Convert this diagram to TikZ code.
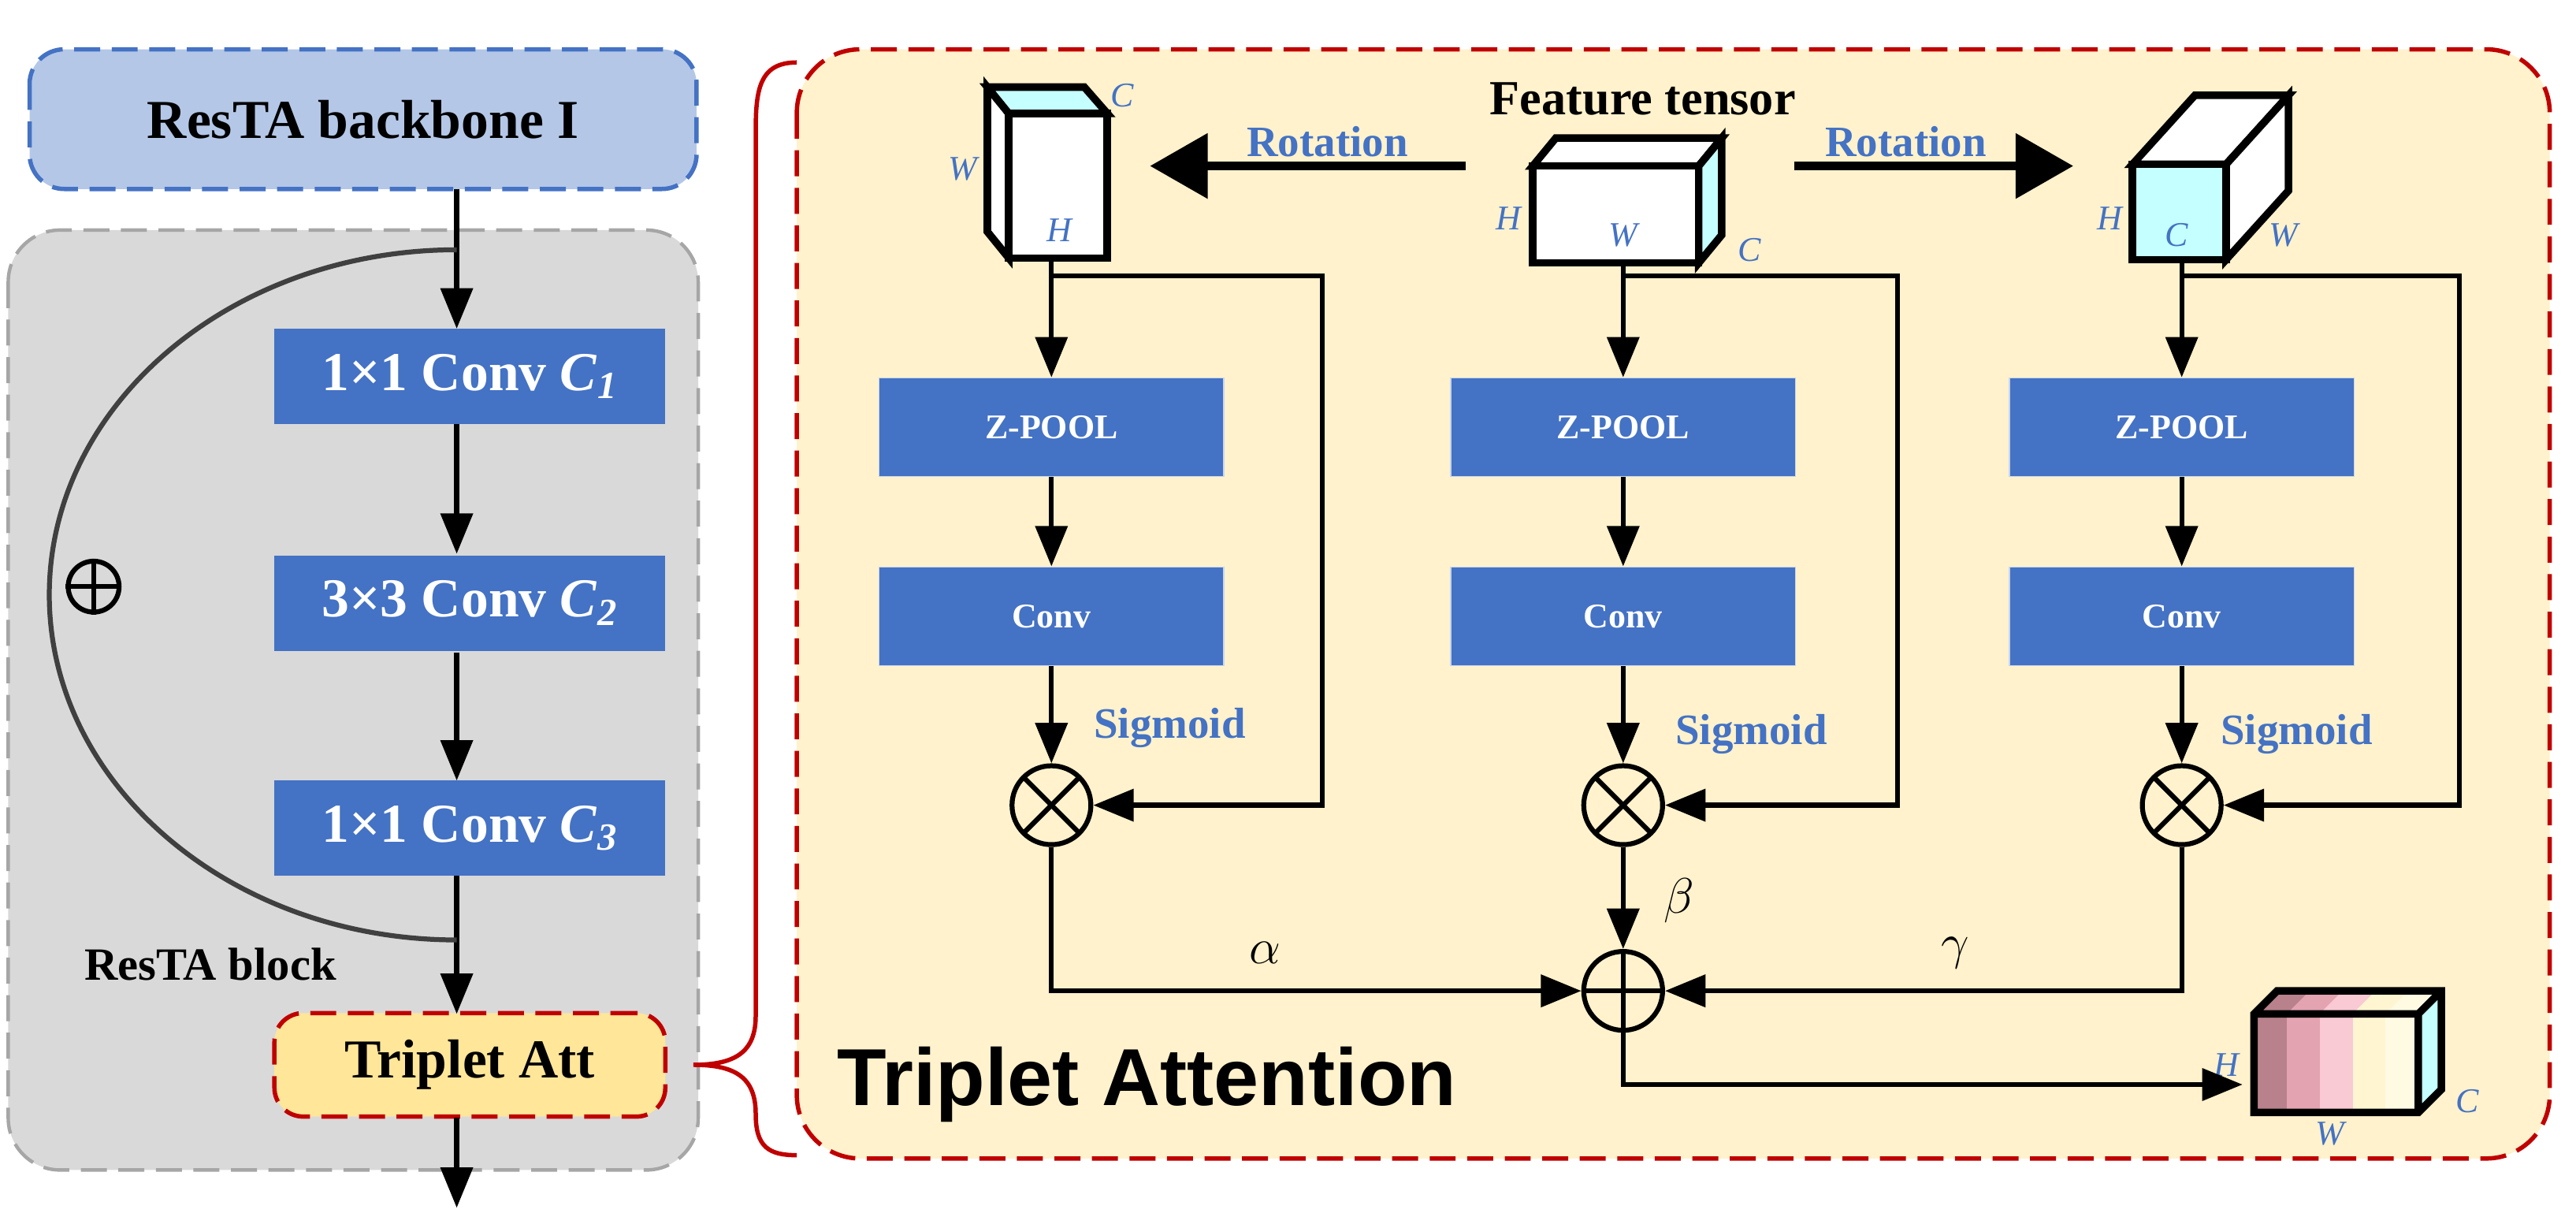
\documentclass[tikz,border=0pt]{standalone}
\usepackage{fontspec}
\setmainfont{Liberation Serif}
\newfontfamily\sansbf{Liberation Sans}
\usepackage{tikz}
\usetikzlibrary{arrows.meta}

\definecolor{convblue}{HTML}{4472C4}
\definecolor{paneltan}{HTML}{FFF2CC}
\definecolor{darkred}{HTML}{C00000}
\definecolor{capblue}{HTML}{B4C7E7}
\definecolor{blockgrey}{HTML}{D9D9D9}
\definecolor{attyellow}{HTML}{FFE699}
\definecolor{icecyan}{HTML}{C5FFFF}

\tikzset{
    flow/.style={line width=1.7pt,-{Triangle[length=14pt,width=11pt]}},
    link/.style={line width=1.7pt},
    longdash/.style={dash pattern=on 9pt off 4pt},
    convbox/.style={fill=convblue,text=white,font=\bfseries\fontsize{19}{22}\selectfont,minimum width=4.76cm,minimum height=1.16cm,inner sep=0pt},
    poolbox/.style={fill=convblue,draw=white!70!convblue,text=white,font=\bfseries\fontsize{12}{14}\selectfont,minimum width=4.2cm,minimum height=1.2cm,inner sep=0pt},
    dimlbl/.style={text=convblue,font=\itshape\fontsize{12}{14}\selectfont,inner sep=1pt},
    bluelbl/.style={text=convblue,font=\bfseries\fontsize{15}{18}\selectfont},
    greek/.style={font=\fontsize{17}{20}\selectfont},
    opnode/.style={circle,draw,line width=1.7pt,minimum size=0.96cm,inner sep=0pt},
    rotarrow/.style={line width=3pt,-{Triangle[length=20pt,width=22pt]}},
    cube/.style={line width=2.6pt,line join=miter},
}

\begin{document}
\begin{tikzpicture}[x=0.02cm,y=-0.02cm]
    \useasboundingbox (0,0) rectangle (1568,747.3);

    % left part
    \draw[convblue,longdash,line width=1.5pt,fill=capblue,rounded corners=12pt] (18,30) rectangle (424,115);
    \node[font=\bfseries\fontsize{19}{22}\selectfont] (backbone) at (221,73) {ResTA backbone I};
    \draw[gray!70,longdash,line width=1.2pt,fill=blockgrey,rounded corners=18pt] (5,140) rectangle (425,712);

    \node[convbox] (convA) at (286,229) {1×1 Conv \textit{C}\textsubscript{\textit{1}}};
    \node[convbox] (convB) at (286,367) {3×3 Conv \textit{C}\textsubscript{\textit{2}}};
    \node[convbox] (convC) at (286,504) {1×1 Conv \textit{C}\textsubscript{\textit{3}}};
    \node[fill=attyellow,draw=darkred,longdash,line width=1.5pt,rounded corners=10pt,minimum width=4.76cm,minimum height=1.26cm,font=\bfseries\fontsize{19}{22}\selectfont] (att) at (286,648) {Triplet Att};
    \node[font=\bfseries\fontsize{16}{19}\selectfont] (blocklbl) at (128,587) {ResTA block};

    \coordinate (skipS) at (278,152);
    \coordinate (skipE) at (278,572);
    \coordinate (outB) at (278,735);
    \draw[flow] (278,115) -- (278,200);
    \draw[flow] (278,258) -- (278,337);
    \draw[flow] (278,397) -- (278,475);
    \draw[flow] (278,533) -- (278,617);
    \draw[flow] (278,680) -- (outB);
    \draw[line width=1.7pt,black!75] (skipS) .. controls (141,152) and (30,246) .. (30,362)
        .. controls (30,478) and (141,572) .. (skipE);
    \node[circle,draw,line width=1.7pt,minimum size=0.62cm,inner sep=0pt] (plusL) at (57,357) {};
    \draw[link] (plusL.north) -- (plusL.south) (plusL.west) -- (plusL.east);

    % brace
    \draw[darkred,line width=1.5pt] (485,38) .. controls (462,38) and (460,55) .. (460,80) -- (460,618)
        .. controls (460,640) and (448,648) .. (422,648) .. controls (448,648) and (460,656) .. (460,678)
        .. controls (460,698) and (468,703) .. (485,703);

    % triplet attention panel
    \draw[darkred,longdash,line width=1.5pt,fill=paneltan,rounded corners=22pt] (485,30) rectangle (1552,705);
    \node[font=\sansbf\bfseries\fontsize{28}{32}\selectfont] (title) at (698,660) {Triplet Attention};
    \node[font=\bfseries\fontsize{17}{20}\selectfont] (feat) at (1000,60) {Feature tensor};

    % cubes
    \draw[cube,fill=white] (614,69) -- (601,53) -- (601,141) -- (614,157) -- cycle; % left side
    \draw[cube,fill=icecyan] (614,69) -- (601,53) -- (660,53) -- (674,69) -- cycle; % top
    \draw[cube,fill=white] (614,69) rectangle (674,157); % front
    \draw[cube,fill=white] (933,101) -- (947,84) -- (1048,84) -- (1034,101) -- cycle;
    \draw[cube,fill=icecyan] (1034,101) -- (1048,84) -- (1048,143) -- (1034,160) -- cycle;
    \draw[cube,fill=white] (933,101) rectangle (1034,160);
    \draw[cube,fill=white] (1298,100) -- (1336,58) -- (1393,58) -- (1355,100) -- cycle;
    \draw[cube,fill=white] (1355,100) -- (1393,58) -- (1393,116) -- (1355,158) -- cycle;
    \draw[cube,fill=icecyan] (1298,100) rectangle (1355,158);
    \foreach \i/\c in {0/B8818B,1/E4A3B0,2/F9C9D4,3/FFF5D1,4/FFFBE3}{
        \definecolor{stripe}{HTML}{\c}
        \fill[stripe] ({1372+\i*20},617) rectangle ({1392+\i*20},677);
        \fill[stripe] ({1372+\i*20},617) -- ({1386+\i*20},603) -- ({1406+\i*20},603) -- ({1392+\i*20},617) -- cycle;
    }
    \fill[icecyan] (1472,617) -- (1486,603) -- (1486,663) -- (1472,677) -- cycle;
    \draw[cube] (1372,617) -- (1386,603) -- (1486,603) -- (1486,663) -- (1472,677) -- (1372,677) -- cycle
        (1372,617) -- (1472,617) -- (1472,677) (1472,617) -- (1486,603);

    \node[dimlbl] (lC) at (683,58) {C};
    \node[dimlbl] (lW) at (586,103) {W};
    \node[dimlbl] (lH) at (645,140) {H};
    \node[dimlbl] (mH) at (918,133) {H};
    \node[dimlbl] (mW) at (988,143) {W};
    \node[dimlbl] (mC) at (1065,152) {C};
    \node[dimlbl] (rH) at (1284,133) {H};
    \node[dimlbl] (rC) at (1325,143) {C};
    \node[dimlbl] (rW) at (1390,143) {W};
    \node[dimlbl] (oH) at (1355,648) {H};
    \node[dimlbl] (oW) at (1418,690) {W};
    \node[dimlbl] (oC) at (1502,670) {C};

    % rotation
    \coordinate (rotLs) at (892,101);
    \coordinate (rotLe) at (700,101);
    \coordinate (rotRs) at (1092,101);
    \coordinate (rotRe) at (1262,101);
    \draw[rotarrow] (rotLs) -- (rotLe);
    \draw[rotarrow] (rotRs) -- (rotRe);
    \node[bluelbl] (rotL) at (808,86) {Rotation};
    \node[bluelbl] (rotR) at (1160,86) {Rotation};

    % branches
    \foreach \x/\bx/\n/\sy in {640/805/a/157,988/1155/b/160,1328/1497/c/158}{
        \node[poolbox] (pool\n) at (\x,260) {Z-POOL};
        \node[poolbox] (conv\n) at (\x,375) {Conv};
        \node[opnode] (mul\n) at (\x,490) {};
        \draw[link] (\x-17,473) -- (\x+17,507) (\x-17,507) -- (\x+17,473);
        \draw[flow] (\x,\sy) -- (pool\n);
        \draw[flow] (pool\n) -- (conv\n);
        \draw[flow] (conv\n) -- (mul\n);
        \draw[flow] (\x,168) -- (\bx,168) -- (\bx,490) -- (mul\n);
    }
    \node[bluelbl] (sigA) at (712,443) {Sigmoid};
    \node[bluelbl] (sigB) at (1066,447) {Sigmoid};
    \node[bluelbl] (sigC) at (1398,447) {Sigmoid};

    % sum
    \node[opnode] (sum) at (988,603) {};
    \draw[link] (sum.north) -- (sum.south) (sum.west) -- (sum.east);
    \draw[flow] (mulb) -- (sum);
    \draw[flow] (mula) |- (sum);
    \draw[flow] (mulc) |- (sum);
    \coordinate (cubeIn) at (1365,660);
    \draw[flow] (sum.south) |- (cubeIn);
    \node[greek] (alpha) at (770,580) {$\alpha$};
    \node[greek] (beta) at (1022,548) {$\beta$};
    \node[greek] (gamma) at (1190,580) {$\gamma$};
\end{tikzpicture}
\end{document}
